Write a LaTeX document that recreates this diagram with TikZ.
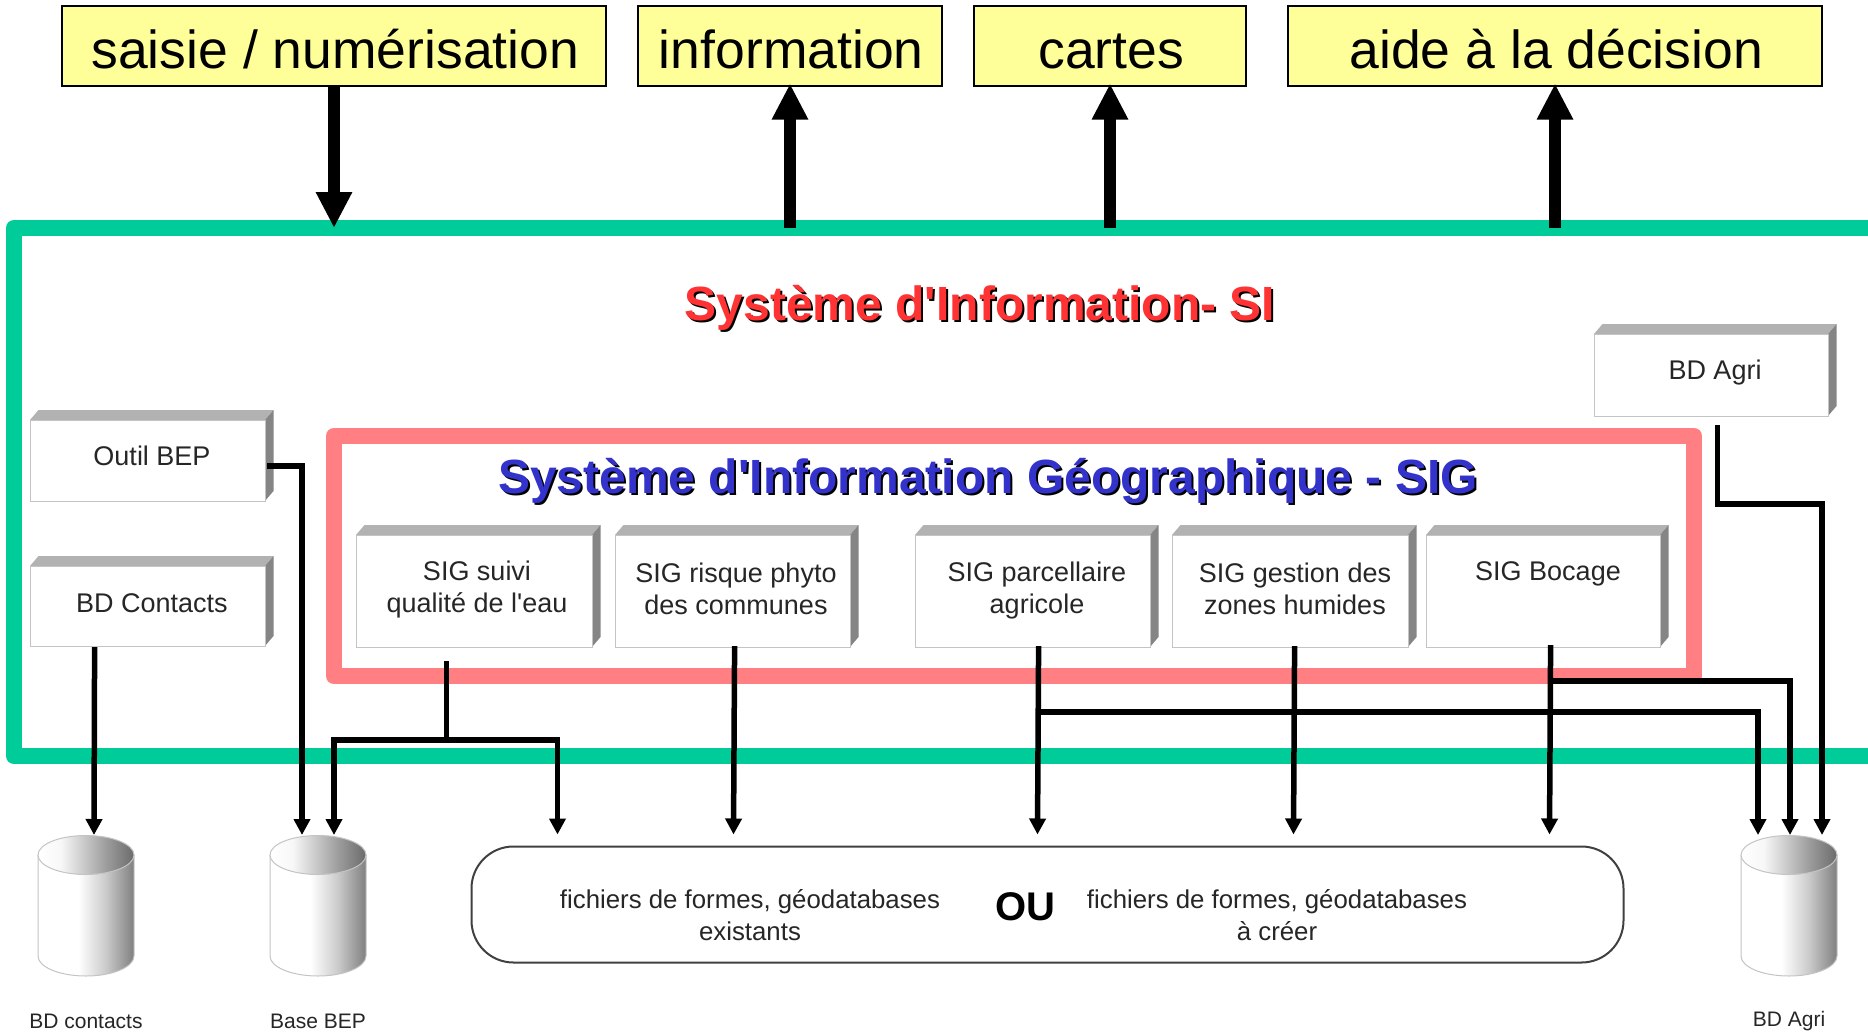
\documentclass[tikz,border=0pt]{standalone}
\usepackage{fontspec}
\setmainfont{Liberation Sans}
\usetikzlibrary{arrows.meta,calc}
\definecolor{sigreen}{HTML}{00CC99}
\definecolor{sigpink}{HTML}{FF7F82}
\definecolor{topyellow}{HTML}{FFFF99}
\definecolor{facetop}{HTML}{B2B2B2}
\definecolor{faceside}{HTML}{858585}
\definecolor{edgegrey}{HTML}{C4C4C4}
\definecolor{txtgrey}{HTML}{262626}
\definecolor{titlered}{HTML}{FF3333}
\definecolor{titleblue}{HTML}{3333CC}
\pgfdeclarehorizontalshading{cylbody}{100bp}{color(0bp)=(white); color(25bp)=(white); color(46bp)=(white); color(60bp)=(white!80!black); color(75bp)=(white!50!black); color(100bp)=(white!50!black)}
\pgfdeclarehorizontalshading{cyltop}{100bp}{color(0bp)=(white); color(25bp)=(white); color(37bp)=(white!97!black); color(60bp)=(white!62!black); color(75bp)=(white!42!black); color(100bp)=(white!42!black)}
\newcommand{\aposq}{\textquotesingle}
\tikzset{
  x=1pt,y=-1pt,
  frame/.style={line width=16pt,line join=round},
  topbox/.style={draw=black,line width=1.6pt,fill=topyellow,inner sep=0pt,text height=62.5pt,text depth=17.5pt,font=\fontsize{53.5}{60}\selectfont,execute at begin node=\kern3pt},
  bigarrow/.style={line width=12pt,-{Triangle[width=34pt,length=36pt]}},
  thinarrow/.style={line width=5.5pt,-{Triangle[width=16pt,length=16pt]}},
  frontface/.style={draw=edgegrey,line width=1.2pt,fill=white,inner sep=0pt},
  boxtext/.style={font=\fontsize{27}{32}\selectfont,text=txtgrey,align=center,inner sep=0pt},
  filetext/.style={font=\fontsize{25.8}{32}\selectfont,text=txtgrey,align=center,inner sep=0pt},
  dbtext/.style={font=\fontsize{21}{25}\selectfont,text=txtgrey,inner sep=0pt},
  titletext/.style={font=\fontsize{48}{56}\bfseries\selectfont,inner sep=0pt},
}
% name, left, front top, front right, bottom, text x, text y, text
\newcommand{\boxthree}[8]{%
  \fill[facetop] (#2,#3) -- (#2+8.5,#3-10) -- (#4+8.5,#3-10) -- (#4,#3) -- cycle;
  \fill[faceside] (#4,#3) -- (#4+8.5,#3-10) -- (#4+8.5,#5-10) -- (#4,#5) -- cycle;
  \node[frontface,minimum width=#4-#2,minimum height=#5-#3,anchor=north west] (#1) at (#2,#3) {};
  \node[boxtext] (#1text) at (#6,#7) {#8};
}
% name, left, right
\newcommand{\cylnode}[3]{%
  \path[draw=edgegrey,line width=1pt,shading=cylbody]
    (#2,855) -- (#2,956) arc[start angle=180,end angle=0,x radius=#3/2-#2/2,y radius=20]
    -- (#3,855) -- cycle;
  \path[draw=edgegrey,line width=1pt,shading=cyltop] (#2/2+#3/2,855) ellipse[x radius=#3/2-#2/2,y radius=19.5];
  \node[minimum width=#3-#2,minimum height=141,inner sep=0pt,anchor=north west] (#1) at (#2,835) {};
}
\begin{document}
\begin{tikzpicture}
\useasboundingbox (0,0) rectangle (1868,1033);
\clip (0,0) rectangle (1868,1033);
\fill[white] (0,0) rectangle (1868,1033);

% frames
\draw[frame,draw=sigreen] (14,228) rectangle (1880,756);
\draw[frame,draw=sigpink] (334,436) rectangle (1694,676);

% top boxes
\node[topbox,minimum width=544,minimum height=80,anchor=north west] (saisie) at (61,5) {saisie / numérisation};
\node[topbox,minimum width=304,minimum height=80,anchor=north west] (information) at (637,5) {information};
\node[topbox,minimum width=272,minimum height=80,anchor=north west] (cartes) at (973,5) {cartes};
\node[topbox,minimum width=534,minimum height=80,anchor=north west] (aide) at (1287,5) {aide à la décision};

% titles
\node[titletext,text=black] (sititleshadow) at (982,310) {Système d\aposq Information- SI};
\node[titletext,text=titlered] (sititle) at (980,308) {Système d\aposq Information- SI};
\node[titletext,text=black] (sigtitleshadow) at (990,483) {Système d\aposq Information Géographique - SIG};
\node[titletext,text=titleblue] (sigtitle) at (988,481) {Système d\aposq Information Géographique - SIG};

% 3D boxes
\boxthree{outil}{30}{420}{265}{501}{152}{456}{Outil BEP}
\boxthree{contacts}{30}{566}{265}{646}{152}{603}{BD Contacts}
\boxthree{agri}{1594}{334}{1828}{416}{1715}{373}{BD Agri}
\boxthree{suivi}{356}{535}{592}{647}{477}{590}{SIG suivi\\qualité de l\aposq eau}
\boxthree{risque}{615}{535}{850}{647}{736}{589}{SIG risque phyto\\des communes}
\boxthree{parcel}{915}{535}{1150}{647}{1037}{590.5}{SIG parcellaire\\agricole}
\boxthree{gestion}{1172}{535}{1408}{647}{1295}{588.5}{SIG gestion des\\zones humides}
\boxthree{bocage}{1426}{535}{1660}{647}{1548}{574}{SIG Bocage}

% databases
\cylnode{dbcontacts}{38}{134}
\cylnode{dbbep}{270}{366}
\cylnode{dbagri}{1741}{1837}
\node[dbtext] (dbcontactslabel) at (86,1021) {BD contacts};
\node[dbtext] (dbbeplabel) at (318,1021) {Base BEP};
\node[dbtext] (dbagrilabel) at (1789,1021) {BD Agri};

% files box
\node[draw=black!75,line width=2pt,rounded corners=42pt,minimum width=1152,minimum height=116,inner sep=0pt,anchor=north west] (files) at (470.5,845.5) {};
\node[filetext] (filesleft) at (750,915) {fichiers de formes, géodatabases\\existants};
\node[filetext] (filesright) at (1277,915) {fichiers de formes, géodatabases\\à créer};
\node[font=\fontsize{40}{46}\bfseries\selectfont,inner sep=0pt] (ou) at (1025,907) {OU};

% points on the green frame
\coordinate (sitop) at (334,228);
\coordinate (sitopb) at (790,228);
\coordinate (sitopc) at (1110,228);
\coordinate (sitopd) at (1555,228);

% big arrows
\draw[bigarrow] (saisie.south -| sitop) -- (sitop);
\draw[bigarrow] (sitopb) -- ([yshift=3pt]information.south -| sitopb);
\draw[bigarrow] (sitopc) -- ([yshift=3pt]cartes.south -| sitopc);
\draw[bigarrow] (sitopd) -- ([yshift=3pt]aide.south -| sitopd);

% thin connectors
\draw[thinarrow] ([xshift=-53.5pt]contacts.south) -- ([xshift=56pt]dbcontacts.north west);
\draw[thinarrow] (outil.east) ++(1,5) -| ([xshift=32pt]dbbep.north west);
\draw[thinarrow] ([xshift=-28pt,yshift=-13pt]suivi.south) |- (446,740) -| ([xshift=64pt]dbbep.north west);
\draw[thinarrow] ([xshift=-28pt,yshift=-13pt]suivi.south) |- (446,740) -| ([xshift=87pt,yshift=11pt]files.north west);
\draw[thinarrow] ([xshift=1.5pt,yshift=2pt]risque.south) -- ([xshift=263pt,yshift=11pt]files.north west);
\draw[thinarrow] ([xshift=5.5pt,yshift=2pt]parcel.south) -- ([xshift=567pt,yshift=11pt]files.north west);
\draw[thinarrow] ([xshift=5.5pt,yshift=-64pt]parcel.south) -| ([xshift=17pt]dbagri.north west);
\draw[thinarrow] ([xshift=4pt,yshift=2pt]gestion.south) -- ([xshift=823pt,yshift=11pt]files.north west);
\draw[thinarrow] ([xshift=7pt,yshift=3pt]bocage.south) -- ([xshift=1079pt,yshift=11pt]files.north west);
\draw[thinarrow] ([xshift=7pt,yshift=-33pt]bocage.south) -| ([xshift=49pt]dbagri.north west);
\draw[thinarrow] ([xshift=6pt,yshift=-8pt]agri.south) |- (1822,504) -- ([xshift=81pt]dbagri.north west);
\end{tikzpicture}
\end{document}
